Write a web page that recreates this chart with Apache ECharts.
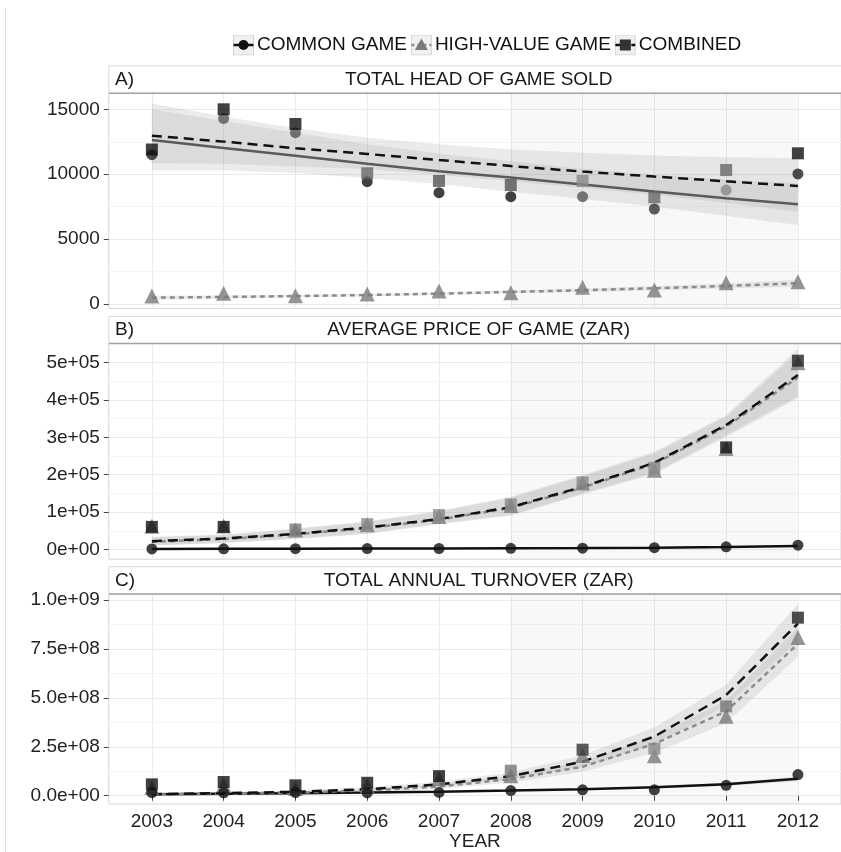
<!DOCTYPE html>
<html>
<head>
<meta charset="utf-8">
<script src="https://cdn.jsdelivr.net/npm/echarts@6/dist/echarts.min.js"></script>
<style>
  html, body { margin: 0; padding: 0; background: #fff; }
  #chart { width: 841px; height: 852px; }
</style>
</head>
<body>
<div id="chart"></div>
<script>
// ---------------- DATA ----------------
const years = [2003, 2004, 2005, 2006, 2007, 2008, 2009, 2010, 2011, 2012];
const shadeFrom = 2008;
const shadeTo = 2012;
const seriesNames = ['COMMON GAME', 'HIGH-VALUE GAME', 'COMBINED'];
const panelLetters = ['A)', 'B)', 'C)'];
const panelTitles = ['TOTAL HEAD OF GAME SOLD', 'AVERAGE PRICE OF GAME (ZAR)', 'TOTAL ANNUAL TURNOVER (ZAR)'];
const xAxisTitle = 'YEAR';

// Panel A: total head of game sold
const headCommon   = [11500, 14300, 13200, 9420, 8580, 8270, 8270, 7320, 8780, 10020];
const headHigh     = [620, 820, 640, 770, 1000, 870, 1290, 1080, 1640, 1720];
const headCombined = [11900, 15000, 13870, 10070, 9480, 9170, 9480, 8220, 10320, 11610];
const headCommonFit = [12640, 12020, 11420, 10800, 10230, 9750, 9200, 8660, 8150, 7680];
const headCommonLo  = [10300, 10300, 10100, 9700, 9250, 8650, 8100, 7500, 6800, 6090];
const headCommonHi  = [15000, 14100, 13200, 12300, 11600, 11000, 10400, 9950, 9600, 9300];
const headHighFit   = [485, 540, 615, 690, 800, 930, 1060, 1210, 1390, 1600];
const headHighLo    = [330, 420, 510, 600, 700, 820, 930, 1050, 1190, 1330];
const headHighHi    = [640, 660, 720, 780, 900, 1040, 1190, 1370, 1590, 1870];
const headCombFit   = [12970, 12510, 12000, 11560, 11090, 10630, 10200, 9820, 9450, 9090];
const headCombLo    = [10850, 10800, 10600, 10400, 9950, 9450, 8950, 8400, 7800, 7100];
const headCombHi    = [15450, 14450, 13550, 12800, 12300, 11900, 11650, 11450, 11300, 11220];

// Panel B: average price of game (ZAR)
const priceCommon   = [1500, 1800, 2100, 2300, 2600, 3000, 3600, 4700, 7000, 11500];
const priceHigh     = [62000, 63000, 52000, 66000, 88000, 118000, 178000, 212000, 270000, 500000];
const priceCombined = [60500, 60500, 53500, 67800, 92000, 120500, 179500, 218600, 273200, 505200];
const priceCommonFit = [1500, 1700, 2000, 2300, 2700, 3200, 3900, 4900, 6500, 9500];
const priceCommonLo  = [500, 800, 1100, 1500, 1900, 2400, 3000, 3800, 5000, 7200];
const priceCommonHi  = [2500, 2600, 2900, 3100, 3500, 4000, 4800, 6000, 8000, 11800];
const priceHighFit   = [20500, 27800, 40300, 57300, 79500, 111500, 165500, 229500, 329000, 460000];
const priceHighLo    = [10500, 16500, 28000, 41500, 67500, 90000, 147000, 202000, 301000, 405000];
const priceHighHi    = [32000, 38500, 54500, 73800, 101000, 138500, 196000, 257500, 355000, 527000];
const priceCombFit   = [22300, 29400, 41800, 58900, 81200, 113300, 167700, 232000, 333000, 467000];
const priceCombLo    = [11500, 17700, 29500, 42900, 69700, 92000, 150000, 205300, 306300, 410600];
const priceCombHi    = [33800, 40200, 56300, 75800, 103400, 141000, 199100, 261500, 359900, 538000];

// Panel C: total annual turnover (ZAR)
const turnCommon   = [1.6e7, 1.5e7, 1.6e7, 1.5e7, 1.7e7, 2.6e7, 3.0e7, 3.0e7, 5.3e7, 1.08e8];
const turnHigh     = [4.2e7, 5.5e7, 3.7e7, 5.1e7, 8.6e7, 1.02e8, 2.05e8, 2.04e8, 4.06e8, 8.08e8];
const turnCombined = [5.8e7, 7.0e7, 5.3e7, 6.6e7, 1.0e8, 1.28e8, 2.35e8, 2.4e8, 4.56e8, 9.09e8];
const turnCommonFit = [0.8e7, 1.0e7, 1.3e7, 1.6e7, 2.0e7, 2.6e7, 3.3e7, 4.3e7, 5.8e7, 8.6e7];
const turnCommonLo  = [0.5e7, 0.75e7, 1.05e7, 1.4e7, 1.8e7, 2.35e7, 2.95e7, 3.8e7, 5.0e7, 7.3e7];
const turnCommonHi  = [1.1e7, 1.25e7, 1.55e7, 1.8e7, 2.2e7, 2.85e7, 3.65e7, 4.8e7, 6.6e7, 1.0e8];
const turnHighFit   = [0.5e7, 1.0e7, 1.6e7, 2.7e7, 4.7e7, 0.85e8, 1.48e8, 2.65e8, 4.31e8, 7.75e8];
const turnHighLo    = [0.0e7, 0.4e7, 0.9e7, 1.8e7, 3.4e7, 0.67e8, 1.22e8, 2.2e8, 3.7e8, 7.1e8];
const turnHighHi    = [1.2e7, 1.6e7, 2.3e7, 3.6e7, 6.0e7, 1.03e8, 1.75e8, 3.05e8, 4.85e8, 8.6e8];
const turnCombFit   = [0.8e7, 1.3e7, 2.0e7, 3.3e7, 5.8e7, 1.0e8, 1.74e8, 3.02e8, 5.14e8, 8.79e8];
const turnCombLo    = [0.3e7, 0.7e7, 1.3e7, 2.4e7, 4.5e7, 0.82e8, 1.45e8, 2.6e8, 4.6e8, 7.9e8];
const turnCombHi    = [1.5e7, 2.0e7, 2.8e7, 4.3e7, 7.2e7, 1.2e8, 2.05e8, 3.5e8, 5.67e8, 9.79e8];

// Tick labels
const yTicksA  = [0, 5000, 10000, 15000];
const yLabelsA = ['0', '5000', '10000', '15000'];
const yMinorA  = [2500, 7500, 12500];
const yTicksB  = [0, 100000, 200000, 300000, 400000, 500000];
const yLabelsB = ['0e+00', '1e+05', '2e+05', '3e+05', '4e+05', '5e+05'];
const yMinorB  = [50000, 150000, 250000, 350000, 450000];
const yTicksC  = [0, 2.5e8, 5e8, 7.5e8, 1e9];
const yLabelsC = ['0.0e+00', '2.5e+08', '5.0e+08', '7.5e+08', '1.0e+09'];
const yMinorC  = [1.25e8, 3.75e8, 6.25e8, 8.75e8];

// ---------------- STYLE ----------------
const FONT = "'Liberation Sans', Arial, Helvetica, sans-serif";
const PLOT_LEFT = 108.8, PLOT_WIDTH = 739.7;
const X_MIN = 2002.4, X_MAX = 2012.6;
const panels = [
  { stripTop: 65.8, top: 93.3, bottom: 308.3, yMin: -331, yMax: 16233, ticks: yTicksA, labels: yLabelsA, minor: yMinorA },
  { stripTop: 316.6, top: 343.4, bottom: 559.2, yMin: -26000, yMax: 551500, ticks: yTicksB, labels: yLabelsB, minor: yMinorB },
  { stripTop: 566.7, top: 594.0, bottom: 808.4, yMin: -4.23e7, yMax: 1.0299e9, ticks: yTicksC, labels: yLabelsC, minor: yMinorC }
];

// Per-point shades (styles, separate from data)
const shadesCircle = [
  ['#222', '#555', '#555', '#111', '#111', '#111', '#555', '#333', '#8a8a8a', '#222'],
  ['#111', '#111', '#111', '#111', '#111', '#111', '#111', '#111', '#111', '#111'],
  ['#111', '#111', '#111', '#111', '#111', '#111', '#111', '#111', '#111', '#111']
];
const shadesSquare = [
  ['#111', '#111', '#111', '#666', '#555', '#555', '#8a8a8a', '#666', '#666', '#111'],
  ['#111', '#111', '#777', '#888', '#888', '#888', '#888', '#888', '#111', '#222'],
  ['#111', '#111', '#111', '#111', '#111', '#777', '#333', '#888', '#777', '#222']
];
const triColor = '#7a7a7a';
const solidColors = ['#5a5a5a', '#111', '#111'];

const panelData = [
  { common: headCommon, high: headHigh, comb: headCombined,
    cFit: headCommonFit, cLo: headCommonLo, cHi: headCommonHi,
    hFit: headHighFit, hLo: headHighLo, hHi: headHighHi,
    bFit: headCombFit, bLo: headCombLo, bHi: headCombHi },
  { common: priceCommon, high: priceHigh, comb: priceCombined,
    cFit: priceCommonFit, cLo: priceCommonLo, cHi: priceCommonHi,
    hFit: priceHighFit, hLo: priceHighLo, hHi: priceHighHi,
    bFit: priceCombFit, bLo: priceCombLo, bHi: priceCombHi },
  { common: turnCommon, high: turnHigh, comb: turnCombined,
    cFit: turnCommonFit, cLo: turnCommonLo, cHi: turnCommonHi,
    hFit: turnHighFit, hLo: turnHighLo, hHi: turnHighHi,
    bFit: turnCombFit, bLo: turnCombLo, bHi: turnCombHi }
];

// ---------------- BUILD ----------------
const grids = [], xAxes = [], yAxes = [], series = [], graphics = [];

panels.forEach((p, i) => {
  grids.push({ left: PLOT_LEFT, width: PLOT_WIDTH, top: p.top, height: p.bottom - p.top,
    show: true, borderColor: '#d4d4d4', borderWidth: 1, backgroundColor: 'transparent' });
  const isLast = i === panels.length - 1;
  xAxes.push({
    type: 'value', gridIndex: i, min: X_MIN, max: X_MAX,
    axisLine: { show: false },
    axisTick: { show: isLast, length: 5, lineStyle: { color: '#444' }, customValues: years },
    axisLabel: { show: isLast, customValues: years, margin: 8, fontSize: 19, color: '#222', fontFamily: FONT,
      formatter: v => String(Math.round(v)) },
    splitLine: { show: true, lineStyle: { color: '#ebebeb', width: 1 } },
    name: isLast ? xAxisTitle : '', nameLocation: 'middle', nameGap: 28,
    nameTextStyle: { fontSize: 19, color: '#222', fontFamily: FONT }
  });
  yAxes.push({
    type: 'value', gridIndex: i, min: p.yMin, max: p.yMax, position: 'left',
    axisLine: { show: false },
    axisTick: { show: true, length: 5, lineStyle: { color: '#444' }, customValues: p.ticks },
    axisLabel: { customValues: p.ticks, margin: 9, fontSize: 19, color: '#222', fontFamily: FONT,
      formatter: v => {
        let best = 0;
        p.ticks.forEach((t, k) => { if (Math.abs(t - v) < Math.abs(p.ticks[best] - v)) best = k; });
        return p.labels[best];
      } },
    splitLine: { show: true, lineStyle: { color: '#ebebeb', width: 1 } }
  });
});
// minor horizontal grid lines (second y-axis per grid)
panels.forEach((p, i) => {
  yAxes.push({
    type: 'value', gridIndex: i, min: p.yMin, max: p.yMax, position: 'left',
    axisLine: { show: false }, axisLabel: { show: false },
    axisTick: { show: false, customValues: p.minor },
    splitLine: { show: true, lineStyle: { color: '#f5f5f5', width: 1 } }
  });
});

function bandSeries(i, name, lo, hi) {
  return {
    type: 'custom', name: name, xAxisIndex: i, yAxisIndex: i, silent: true, z: 2,
    data: years.map((y, k) => [y, lo[k], hi[k]]),
    encode: { x: 0, y: [1, 2] },
    renderItem: (params, api) => {
      if (params.dataIndex !== 0) return null;
      const pts = [];
      for (let k = 0; k < years.length; k++) pts.push(api.coord([years[k], hi[k]]));
      for (let k = years.length - 1; k >= 0; k--) pts.push(api.coord([years[k], lo[k]]));
      return { type: 'polygon', shape: { points: pts }, style: { fill: 'rgba(153,153,153,0.2)' } };
    }
  };
}
function fitSeries(i, name, vals, color, type, extra) {
  return Object.assign({
    type: 'line', name: name, xAxisIndex: i, yAxisIndex: i, symbol: 'none', silent: true, z: 3,
    data: years.map((y, k) => [y, vals[k]]),
    lineStyle: { color: color, width: 2.5, type: type },
    itemStyle: { color: color }
  }, extra || {});
}
function pointSeries(i, name, vals, symbol, size, colors, z) {
  return {
    type: 'scatter', name: name, xAxisIndex: i, yAxisIndex: i, symbol: symbol, symbolSize: size, z: z,
    data: years.map((y, k) => ({ value: [y, vals[k]], itemStyle: { color: Array.isArray(colors) ? colors[k] : colors } }))
  };
}

panelData.forEach((d, i) => {
  series.push(bandSeries(i, seriesNames[0], d.cLo, d.cHi));
  series.push(bandSeries(i, seriesNames[1], d.hLo, d.hHi));
  series.push(bandSeries(i, seriesNames[2], d.bLo, d.bHi));
  series.push(fitSeries(i, seriesNames[0], d.cFit, solidColors[i], 'solid', {
    markArea: { silent: true, itemStyle: { color: 'rgba(0,0,0,0.028)' },
      data: [[{ xAxis: shadeFrom }, { xAxis: shadeTo }]] }
  }));
  series.push(fitSeries(i, seriesNames[1], d.hFit, '#8c8c8c', [5, 4]));
  series.push(fitSeries(i, seriesNames[2], d.bFit, '#111', [10, 6]));
  series.push(pointSeries(i, seriesNames[1], d.high, 'triangle', 15, triColor, 4));
  series.push(pointSeries(i, seriesNames[0], d.common, 'circle', 11, shadesCircle[i], 5));
  series.push(pointSeries(i, seriesNames[2], d.comb, 'rect', 12, shadesSquare[i], 6));
});

// strips
panels.forEach((p, i) => {
  graphics.push({ type: 'rect', z: 10, shape: { x: PLOT_LEFT, y: p.stripTop, width: PLOT_WIDTH, height: p.top - p.stripTop },
    style: { fill: '#fff', stroke: '#dadada', lineWidth: 1 } });
  graphics.push({ type: 'line', z: 11, shape: { x1: PLOT_LEFT, y1: p.top, x2: PLOT_LEFT + PLOT_WIDTH, y2: p.top },
    style: { stroke: '#a3a3a3', lineWidth: 1.5 } });
  const cy = (p.stripTop + p.top) / 2;
  graphics.push({ type: 'text', z: 12, x: 115, y: cy,
    style: { text: panelLetters[i], font: "19px " + FONT, fill: '#1a1a1a', verticalAlign: 'middle', align: 'left' } });
  graphics.push({ type: 'text', z: 12, x: PLOT_LEFT + PLOT_WIDTH / 2, y: cy,
    style: { text: panelTitles[i], font: "19px " + FONT, fill: '#1a1a1a', verticalAlign: 'middle', align: 'center' } });
});
// left page border line
graphics.push({ type: 'line', z: 1, shape: { x1: 5.5, y1: 8, x2: 5.5, y2: 852 }, style: { stroke: '#dcdcdc', lineWidth: 1 } });

// legend icons
function svgIcon(inner) {
  const svg = "<svg xmlns='http://www.w3.org/2000/svg' width='21' height='21' viewBox='0 0 21 21'>" +
    "<rect x='0.5' y='0.5' width='20' height='20' fill='#f0f0f0' stroke='#d2d2d2'/>" + inner + "</svg>";
  return 'image://data:image/svg+xml;charset=utf-8,' + encodeURIComponent(svg);
}
const legendIcons = [
  svgIcon("<line x1='0.5' y1='10.5' x2='20.5' y2='10.5' stroke='#111' stroke-width='2.5'/><circle cx='10.5' cy='10.5' r='5' fill='#111'/>"),
  svgIcon("<line x1='0.5' y1='10.5' x2='20.5' y2='10.5' stroke='#8c8c8c' stroke-width='2.5' stroke-dasharray='3 3'/><polygon points='10.5,4 17,15.5 4,15.5' fill='#7a7a7a'/>"),
  svgIcon("<line x1='0.5' y1='10.5' x2='20.5' y2='10.5' stroke='#111' stroke-width='2.5' stroke-dasharray='5 3'/><rect x='5' y='5' width='11' height='11' fill='#333'/>")
];

const option = {
  backgroundColor: '#fff',
  animation: false,
  legend: {
    left: 228, top: 29.5, itemWidth: 21, itemHeight: 21, itemGap: 4,
    data: seriesNames.map((n, k) => ({ name: n, icon: legendIcons[k] })),
    textStyle: { fontSize: 19, color: '#111', fontFamily: FONT, padding: [0, 0, 0, -2] },
    selectedMode: false
  },
  grid: grids,
  xAxis: xAxes,
  yAxis: yAxes,
  series: series,
  graphic: graphics
};

const chart = echarts.init(document.getElementById('chart'), null, { renderer: 'canvas' });
chart.setOption(option);
</script>
</body>
</html>
